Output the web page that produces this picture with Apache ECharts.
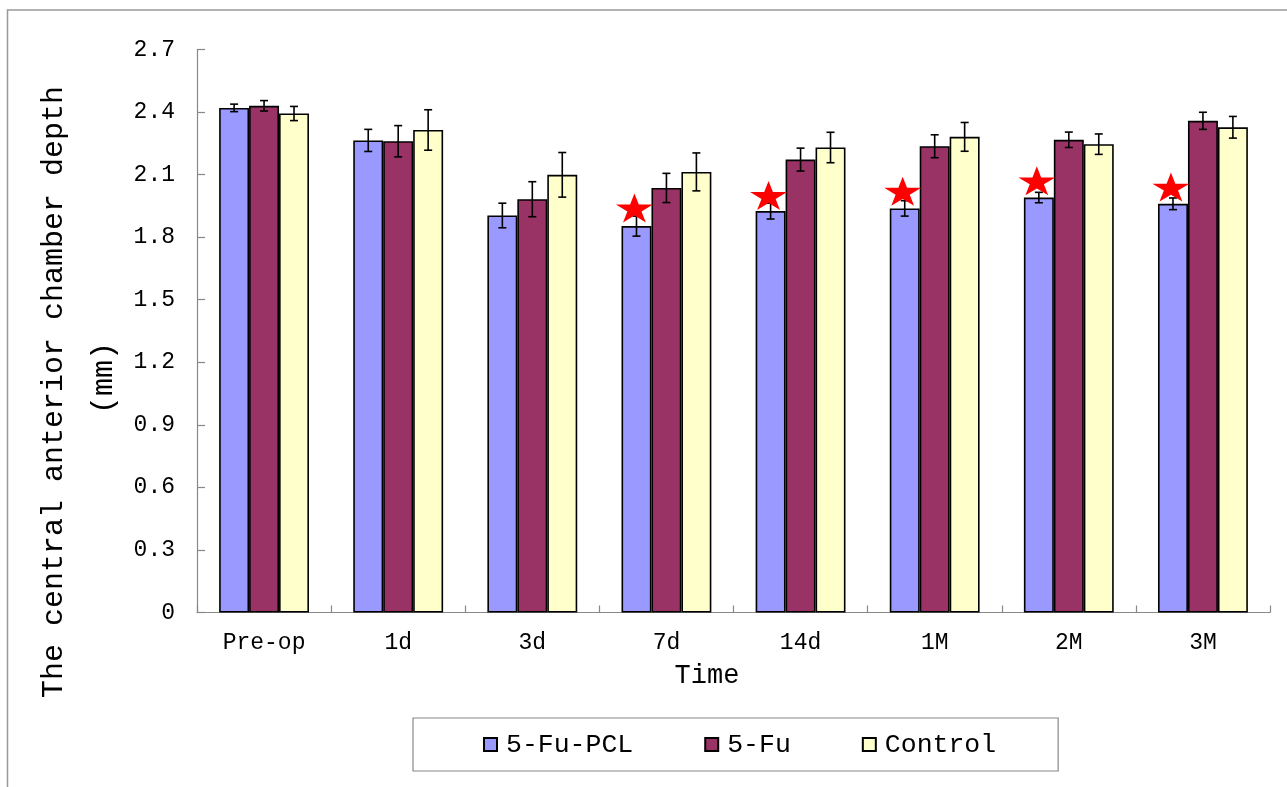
<!DOCTYPE html>
<html>
<head>
<meta charset="utf-8">
<script src="https://cdn.jsdelivr.net/npm/echarts@6/dist/echarts.min.js"></script>
<style>
html,body{margin:0;padding:0;background:#fff;}
#chart{width:1287px;height:787px;}
</style>
</head>
<body>
<div id="chart"></div>
<script>
var categories = ['Pre-op', '1d', '3d', '7d', '14d', '1M', '2M', '3M'];
var seriesNames = ['5-Fu-PCL', '5-Fu', 'Control'];
var pclValues = [2.42, 2.264, 1.904, 1.853, 1.925, 1.938, 1.99, 1.96];
var fuValues = [2.43, 2.26, 1.982, 2.036, 2.172, 2.236, 2.267, 2.358];
var controlValues = [2.393, 2.314, 2.099, 2.113, 2.23, 2.281, 2.246, 2.327];
var pclErrors = [0.018, 0.053, 0.059, 0.048, 0.038, 0.037, 0.025, 0.028];
var fuErrors = [0.025, 0.075, 0.084, 0.07, 0.055, 0.055, 0.037, 0.041];
var controlErrors = [0.034, 0.097, 0.107, 0.091, 0.073, 0.069, 0.049, 0.052];
var starValues = [null, null, null, 1.94, 2.0, 2.02, 2.07, 2.04];
var yTicks = [0, 0.3, 0.6, 0.9, 1.2, 1.5, 1.8, 2.1, 2.4, 2.7];

var FONT = '"Liberation Mono", "DejaVu Sans Mono", monospace';
var colors = ['#9999FF', '#993366', '#FFFFCC'];
var catGap = 0.33;

var chart = echarts.init(document.getElementById('chart'));

function errorSeries(name, values, errors, slot) {
  return {
    type: 'custom',
    name: name + ' error',
    z: 5,
    silent: true,
    encode: { x: 0, y: 1 },
    data: values.map(function (v, i) { return [i, v, errors[i]]; }),
    renderItem: function (params, api) {
      var idx = api.value(0), v = api.value(1), e = api.value(2);
      var band = api.size([1, 0])[0];
      var barW = band * (1 - catGap) / 3;
      var c = api.coord([idx, v]);
      var x = c[0] + slot * barW;
      var top = api.coord([idx, v + e])[1];
      var bot = api.coord([idx, v - e])[1];
      var cap = 4;
      var st = { stroke: '#000', lineWidth: 1.6 };
      return {
        type: 'group',
        children: [
          { type: 'line', shape: { x1: x, y1: top, x2: x, y2: bot }, style: st },
          { type: 'line', shape: { x1: x - cap, y1: top, x2: x + cap, y2: top }, style: st },
          { type: 'line', shape: { x1: x - cap, y1: bot, x2: x + cap, y2: bot }, style: st }
        ]
      };
    }
  };
}

function barSeries(name, values, color) {
  return {
    type: 'bar',
    name: name,
    data: values,
    barGap: '0%',
    barCategoryGap: (catGap * 100) + '%',
    itemStyle: { color: color, borderColor: '#000', borderWidth: 1.6 },
    emphasis: { disabled: true },
    z: 2
  };
}

var starPath = 'path://M50,0 L61.2,34.5 L97.6,34.5 L68.2,55.9 L79.4,90.5 L50,69.1 L20.6,90.5 L31.8,55.9 L2.4,34.5 L38.8,34.5 Z';

var option = {
  backgroundColor: '#fff',
  animation: false,
  grid: { left: 197, right: 17, top: 49.5, bottom: 174.5, containLabel: false },
  legend: {
    data: seriesNames,
    left: 413,
    top: 718,
    orient: 'horizontal',
    padding: [13, 62, 13, 70],
    itemGap: 71,
    itemWidth: 13,
    itemHeight: 13,
    icon: 'rect',
    borderColor: '#888',
    borderWidth: 1.2,
    borderRadius: 0,
    textStyle: { fontFamily: FONT, fontSize: 26.5, color: '#000', padding: [0, 0, 0, 4] }
  },
  xAxis: {
    type: 'category',
    data: categories,
    axisLine: { show: true, lineStyle: { color: '#888', width: 1.2 } },
    axisTick: { show: true, inside: true, length: 7, alignWithLabel: false, lineStyle: { color: '#888', width: 1.2 } },
    axisLabel: { fontFamily: FONT, fontSize: 23, color: '#000', margin: 19 },
    splitLine: { show: false }
  },
  yAxis: {
    type: 'value',
    min: 0,
    max: 2.7,
    interval: 0.3,
    axisLine: { show: true, lineStyle: { color: '#888', width: 1.2 } },
    axisTick: { show: true, inside: true, length: 8, lineStyle: { color: '#888', width: 1.2 } },
    axisLabel: {
      fontFamily: FONT, fontSize: 23, color: '#000', margin: 22,
      formatter: function (v) {
        var t = yTicks.reduce(function (a, b) { return Math.abs(b - v) < Math.abs(a - v) ? b : a; });
        return t === 0 ? '0' : t.toFixed(1);
      }
    },
    splitLine: { show: false }
  },
  graphic: [
    { type: 'polyline', shape: { points: [[7.5, 800], [7.5, 10], [1300, 10]] }, style: { stroke: '#999', lineWidth: 1.5, fill: null }, silent: true },
    { type: 'text', x: 54, y: 392, rotation: Math.PI / 2, style: { text: 'The central anterior chamber depth', font: '30px ' + FONT, fill: '#000', textAlign: 'center', textVerticalAlign: 'middle' }, silent: true },
    { type: 'text', x: 104, y: 378, rotation: Math.PI / 2, style: { text: '(mm)', font: '30px ' + FONT, fill: '#000', textAlign: 'center', textVerticalAlign: 'middle' }, silent: true },
    { type: 'text', x: 707, y: 676, style: { text: 'Time', font: '27px ' + FONT, fill: '#000', textAlign: 'center', textVerticalAlign: 'middle' }, silent: true }
  ],
  series: [
    barSeries(seriesNames[0], pclValues, colors[0]),
    barSeries(seriesNames[1], fuValues, colors[1]),
    barSeries(seriesNames[2], controlValues, colors[2]),
    errorSeries(seriesNames[0], pclValues, pclErrors, -1),
    errorSeries(seriesNames[1], fuValues, fuErrors, 0),
    errorSeries(seriesNames[2], controlValues, controlErrors, 1),
    {
      type: 'scatter',
      name: 'significance',
      data: starValues,
      symbol: starPath,
      symbolSize: [37, 29],
      symbolOffset: [-32, 0],
      itemStyle: { color: '#FF0000', opacity: 1 },
      z: 10,
      silent: true
    }
  ]
};
chart.setOption(option);
</script>
</body>
</html>
